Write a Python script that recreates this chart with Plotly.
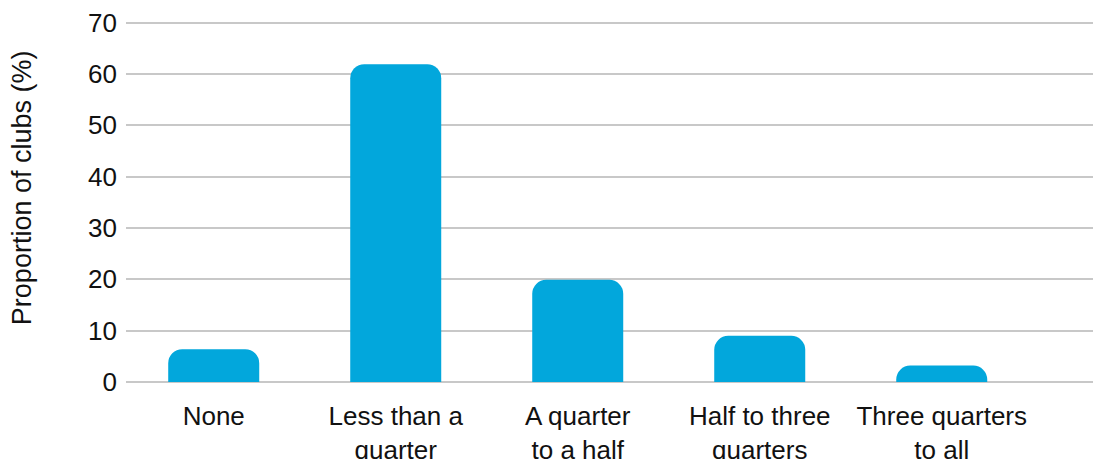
import plotly.graph_objects as go

categories = ["None", "Less than a<br>quarter", "A quarter<br>to a half",
              "Half to three<br>quarters", "Three quarters<br>to all"]
values = [6.4, 61.9, 19.9, 9.0, 3.2]
y_ticks = [0, 10, 20, 30, 40, 50, 60, 70]
y_title = "Proportion of clubs (%)"

fig = go.Figure()
fig.add_trace(go.Bar(
    x=list(range(len(categories))),
    y=values,
    width=0.5,
    marker=dict(color="#02A7DC", cornerradius=14, line=dict(width=0)),
))

FONT = "Liberation Sans, Arial, sans-serif"
fig.update_layout(
    width=1101, height=459,
    margin=dict(l=118, r=0, t=13, b=85),
    paper_bgcolor="white", plot_bgcolor="white",
    showlegend=False,
    font=dict(family=FONT, size=26, color="#111111"),
    bargap=0.5,
)
fig.update_xaxes(
    tickmode="array",
    tickvals=list(range(len(categories))),
    ticktext=categories,
    range=[-0.482, 4.919],
    showgrid=False, zeroline=False, showline=False,
    ticks="", ticklabelstandoff=16,
    ticklabeloverflow="allow",
    tickfont=dict(size=26),
)
fig.update_yaxes(
    range=[0, 70.3],
    tickmode="array", tickvals=y_ticks,
    showgrid=True, gridcolor="#C8C8C8", gridwidth=1.5,
    zeroline=True, zerolinecolor="#C8C8C8", zerolinewidth=1.5,
    showline=False, ticks="", ticklabelstandoff=8,
    ticklabeloverflow="allow",
    tickfont=dict(size=26),
    automargin=False,
)
fig.add_annotation(
    text=y_title, textangle=-90,
    xref="paper", yref="paper", x=0, y=0.537,
    xanchor="center", yanchor="middle", xshift=-104,
    showarrow=False, font=dict(size=27, family=FONT, color="#111111"),
)
fig.write_html("out.html")
